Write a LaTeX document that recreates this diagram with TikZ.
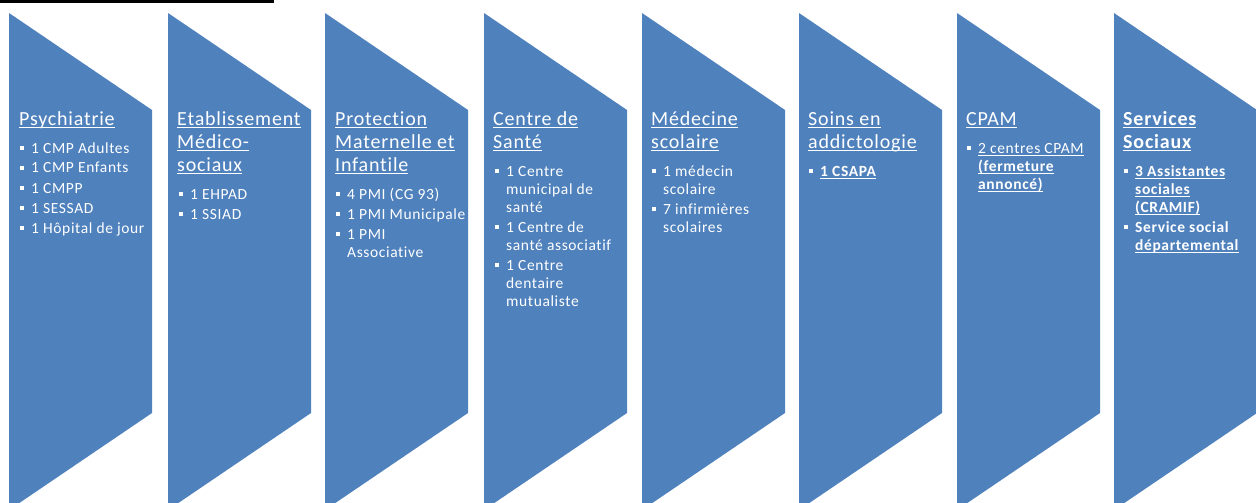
\documentclass[tikz,border=0pt]{standalone}
\usepackage{fontspec}
\setmainfont{Carlito}[LetterSpace=4, Ligatures={NoCommon,NoRequired}]
\definecolor{panelblue}{RGB}{79,129,189}

% underlined word or line, with a fixed rule below the baseline
\newcommand\uline[1]{\leavevmode\setbox0\hbox{#1}\rlap{\rule[-2.6pt]{\wd0}{1pt}}\box0}
% square bullet and hanging indent for list entries
\newcommand\bul{\makebox[11pt][l]{\rule[3pt]{4pt}{4pt}}}
\newcommand\hang{\hspace*{11pt}}

\tikzset{
  panel/.style={fill=panelblue},
  heading/.style={anchor=base west, inner sep=0pt, text=white,
    font=\fontsize{20}{23.3}\selectfont},
  entries/.style={anchor=base west, inner sep=0pt, text=white,
    font=\fontsize{15.5}{18}\selectfont},
}

\begin{document}
\begin{tikzpicture}[x=1pt,y=-1pt]
\useasboundingbox (0,0) rectangle (1256,503);

% rule across the top left
\fill[black] (0,0) rectangle (274,2.7);

% the eight slanted panels
\begin{scope}
\clip (0,0) rectangle (1256,503);
\foreach \L in {9,168,325,484,642,799,957,1114}{
  \fill[panel] (\L,13) -- (\L+143,110) -- (\L+143,413) -- (\L,510) -- cycle;
}
\end{scope}

% Psychiatrie
\node[heading] (h1) at (19,125) {\parbox[t]{140pt}{\uline{Psychiatrie}}};
\node[entries] (e1) at (20,153) {\parbox[t]{135pt}{%
  \bul 1 CMP Adultes\\[2pt]
  \bul 1 CMP Enfants\\[2pt]
  \bul 1 CMPP\\[2pt]
  \bul 1 SESSAD\\[2pt]
  \bul 1 Hôpital de jour}};

% Etablissement Medico-sociaux
\node[heading] (h2) at (177,125) {\parbox[t]{140pt}{%
  \uline{Etablissement}\\\uline{Médico-}\\\uline{sociaux}}};
\node[entries] (e2) at (179,199) {\parbox[t]{135pt}{%
  \bul 1 EHPAD\\[2pt]
  \bul 1 SSIAD}};

% Protection Maternelle et Infantile
\node[heading] (h3) at (335,125) {\parbox[t]{140pt}{%
  \uline{Protection}\\\uline{Maternelle et}\\\uline{Infantile}}};
\node[entries] (e3) at (336,199) {\parbox[t]{135pt}{%
  \bul 4 PMI (CG 93)\\[2pt]
  \bul 1 PMI Municipale\\[2pt]
  \bul 1 PMI\\\hang Associative}};

% Centre de Sante
\node[heading] (h4) at (493,125) {\parbox[t]{140pt}{%
  \uline{Centre de}\\\uline{Santé}}};
\node[entries] (e4) at (495,176) {\parbox[t]{135pt}{%
  \bul 1 Centre\\\hang municipal de\\\hang santé\\[2pt]
  \bul 1 Centre de\\\hang santé associatif\\[2pt]
  \bul 1 Centre\\\hang dentaire\\\hang mutualiste}};

% Medecine scolaire
\node[heading] (h5) at (651,125) {\parbox[t]{140pt}{%
  \uline{Médecine}\\\uline{scolaire}}};
\node[entries] (e5) at (652,176) {\parbox[t]{135pt}{%
  \bul 1 médecin\\\hang scolaire\\[2pt]
  \bul 7 infirmières\\\hang scolaires}};

% Soins en addictologie
\node[heading] (h6) at (808,125) {\parbox[t]{140pt}{%
  \uline{Soins en}\\\uline{addictologie}}};
\node[entries] (e6) at (809,176) {\parbox[t]{135pt}{%
  \bul \uline{\bfseries 1 CSAPA}}};

% CPAM
\node[heading] (h7) at (966,125) {\parbox[t]{140pt}{\uline{CPAM}}};
\node[entries] (e7) at (967,153) {\parbox[t]{135pt}{%
  \bul \uline{2 centres CPAM}\\
  \hang\uline{\bfseries (fermeture}\\
  \hang\uline{\bfseries annoncé)}}};

% Services Sociaux
\node[heading] (h8) at (1123,125) {\parbox[t]{140pt}{\bfseries
  \uline{Services}\\\uline{Sociaux}}};
\node[entries] (e8) at (1124,176) {\parbox[t]{135pt}{\bfseries
  \bul \uline{3 Assistantes}\\
  \hang\uline{sociales}\\
  \hang\uline{(CRAMIF)}\\[2pt]
  \bul Service social\\
  \hang\uline{départemental}}};

\end{tikzpicture}
\end{document}
